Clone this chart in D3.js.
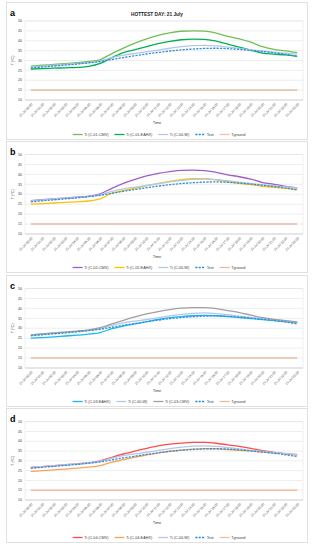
<!DOCTYPE html>
<html>
<head>
<meta charset="utf-8">
<script src="https://cdn.jsdelivr.net/npm/d3@7"></script>
<style>
  body { margin: 0; background: #fff; }
  text { font-family: "Liberation Sans", Arial, sans-serif; fill: #404040; }
</style>
</head>
<body>
<div id="chart"></div>
<script>
(function() {

  // hour ticks
  var timeLabels = [];
  for (var h = 0; h < 24; h++) timeLabels.push("21-Jul " + (h < 10 ? "0" + h : h) + ":00");

  var yTicks = [10, 15, 20, 25, 30, 35, 40, 45, 50];

  // shared series
  var tiW   = [26.7,27.2,27.6,28.0,28.4,28.9,29.8,31.4,32.7,33.6,34.4,35.3,36.2,37.0,37.5,37.7,37.4,36.8,36.1,35.4,34.8,34.2,33.7,33.2];
  var tExt  = [26.2,26.7,27.2,27.7,28.2,28.8,29.5,30.5,31.5,32.4,33.3,34.1,34.8,35.4,35.8,36.1,36.2,36.0,35.6,35.1,34.5,33.9,33.1,32.2];
  var tGround = [15,15,15,15,15,15,15,15,15,15,15,15,15,15,15,15,15,15,15,15,15,15,15,15];

  // panel a
  var c01Cmv  = [27.2,27.6,28.0,28.4,28.9,29.5,30.5,33.5,36.3,38.8,41.0,42.7,44.0,44.8,45.0,44.9,43.9,42.2,41.0,39.3,37.0,35.6,34.9,34.0];
  var c01Eahx = [25.7,25.9,26.1,26.3,26.5,27.0,28.5,31.5,34.0,35.5,37.0,38.5,39.7,40.5,40.8,40.7,39.8,38.3,36.8,35.2,33.7,33.2,32.8,32.1];
  // panel b
  var c02Cmv  = [26.8,27.3,27.7,28.1,28.5,29.0,30.2,33.0,35.5,37.5,39.2,40.5,41.4,42.0,42.1,41.9,41.0,39.8,38.8,37.6,35.9,35.0,34.0,33.2];
  var c02Eahx = [25.0,25.3,25.6,25.9,26.2,26.6,27.7,30.5,31.8,33.0,34.3,35.5,36.5,37.3,37.8,37.8,37.2,36.2,35.5,34.8,34.0,33.5,33.0,32.5];
  // panel c
  var c03Eahx = [25.0,25.3,25.7,26.1,26.5,27.0,27.8,29.8,31.1,32.2,33.3,34.4,35.3,35.9,36.3,36.5,36.3,35.9,35.4,34.9,34.4,33.9,33.4,32.8];
  var c03Cmv  = [26.6,27.1,27.6,28.1,28.6,29.2,30.3,32.2,34.0,35.7,37.2,38.4,39.4,40.1,40.4,40.4,39.9,38.9,37.9,36.6,35.3,34.5,33.8,33.1];
  // panel d
  var c04Cmv  = [26.6,27.1,27.5,28.0,28.5,29.0,30.0,31.8,33.5,35.0,36.4,37.6,38.5,39.1,39.4,39.4,39.0,38.2,37.4,36.4,35.2,34.3,33.6,33.0];
  var c04Eahx = [24.6,25.0,25.4,25.8,26.3,26.8,27.6,29.3,30.6,31.9,33.0,34.0,34.9,35.5,36.0,36.2,36.1,35.8,35.4,35.0,34.5,34.1,33.8,33.3];

  var panels = [
    { id: "a", top: 2, bottom: 139, plotTop: 21, plotBottom: 100, title: "HOTTEST DAY: 21 July",
      series: [
        { name: "Ti (C.01-CMV)",  values: c01Cmv,  color: "#70bf55" },
        { name: "Ti (C.01-EAHX)", values: c01Eahx, color: "#00b050" },
        { name: "Ti (C.00-W)",    values: tiW,     color: "#b4c7e7" },
        { name: "Text",           values: tExt,    color: "#2e8fd8", dash: true },
        { name: "Tground",        values: tGround, color: "#e6c6b2" }
      ] },
    { id: "b", top: 141, bottom: 272, plotTop: 154.5, plotBottom: 234,
      series: [
        { name: "Ti (C.02-CMV)",  values: c02Cmv,  color: "#a05dc8" },
        { name: "Ti (C.02-EAHX)", values: c02Eahx, color: "#ffc000" },
        { name: "Ti (C.00-W)",    values: tiW,     color: "#b4c7e7" },
        { name: "Text",           values: tExt,    color: "#2e8fd8", dash: true },
        { name: "Tground",        values: tGround, color: "#e6b8a6" }
      ] },
    { id: "c", top: 275, bottom: 406, plotTop: 288.5, plotBottom: 368,
      series: [
        { name: "Ti (C.03-EAHX)", values: c03Eahx, color: "#19b8f0" },
        { name: "Ti (C.00-W)",    values: tiW,     color: "#b4c7e7" },
        { name: "Ti (C.03-CMV)",  values: c03Cmv,  color: "#a0a0a0" },
        { name: "Text",           values: tExt,    color: "#2e8fd8", dash: true },
        { name: "Tground",        values: tGround, color: "#e8bca4" }
      ] },
    { id: "d", top: 408, bottom: 542, plotTop: 421.7, plotBottom: 500,
      series: [
        { name: "Ti (C.04-CMV)",  values: c04Cmv,  color: "#ff4b4b" },
        { name: "Ti (C.04-EAHX)", values: c04Eahx, color: "#f7a35c" },
        { name: "Ti (C.00-W)",    values: tiW,     color: "#b4c7e7" },
        { name: "Text",           values: tExt,    color: "#2e8fd8", dash: true },
        { name: "Tground",        values: tGround, color: "#f2bc9c" }
      ] }
  ];

  var W = 314, H = 550;
  var plotLeft = 25, plotRight = 303;

  var svg = d3.select("#chart").append("svg")
      .attr("width", W).attr("height", H);
  svg.append("rect").attr("width", W).attr("height", H).attr("fill", "#fff");

  var x = d3.scalePoint().domain(timeLabels).range([plotLeft, plotRight]).padding(0.5);

  panels.forEach(function(p) {
    var g = svg.append("g");

    // panel frame
    g.append("rect")
      .attr("x", 6.5).attr("y", p.top + 0.5)
      .attr("width", 301).attr("height", p.bottom - p.top)
      .attr("fill", "#fff").attr("stroke", "#d9d9d9").attr("stroke-width", 0.8);

    g.append("text")
      .attr("x", 10).attr("y", p.top + 14)
      .attr("font-size", 9).attr("font-weight", "bold")
      .style("fill", "#000")
      .text(p.id);

    if (p.title) {
      g.append("text")
        .attr("x", 157).attr("y", p.plotTop - 5)
        .attr("text-anchor", "middle")
        .attr("font-size", 5.6).attr("font-weight", "bold")
        .attr("textLength", 52).attr("lengthAdjust", "spacingAndGlyphs")
        .style("fill", "#222")
        .text(p.title);
    }

    var y = d3.scaleLinear().domain([10, 50]).range([p.plotBottom, p.plotTop]);

    // gridlines
    g.selectAll(".grid").data(yTicks).enter().append("line")
      .attr("x1", plotLeft).attr("x2", plotRight)
      .attr("y1", function(d) { return y(d); })
      .attr("y2", function(d) { return y(d); })
      .attr("stroke", "#e3e3e3").attr("stroke-width", 0.6);

    g.append("rect")
      .attr("x", plotLeft).attr("y", p.plotTop)
      .attr("width", plotRight - plotLeft).attr("height", p.plotBottom - p.plotTop)
      .attr("fill", "none").attr("stroke", "#e3e3e3").attr("stroke-width", 0.6);

    g.append("line")
      .attr("x1", plotLeft).attr("x2", plotRight)
      .attr("y1", p.plotBottom).attr("y2", p.plotBottom)
      .attr("stroke", "#d0d0d0").attr("stroke-width", 0.6);

    // y tick labels
    g.selectAll(".ylab").data(yTicks).enter().append("text")
      .attr("x", plotLeft - 3).attr("y", function(d) { return y(d) + 1.2; })
      .attr("text-anchor", "end").attr("font-size", 3.6)
      .text(function(d) { return d; });

    g.append("text")
      .attr("transform", "translate(14," + ((p.plotTop + p.plotBottom) / 2) + ") rotate(-90)")
      .attr("text-anchor", "middle").attr("font-size", 3.8)
      .text("T (°C)");

    // x tick labels
    g.selectAll(".xlab").data(timeLabels).enter().append("text")
      .attr("transform", function(d) {
        return "translate(" + (x(d) + 2) + "," + (p.plotBottom + 4.5) + ") rotate(-45)";
      })
      .attr("text-anchor", "end").attr("font-size", 3.2)
      .text(function(d) { return d; });

    g.append("text")
      .attr("x", 157).attr("y", p.plotBottom + 24)
      .attr("text-anchor", "middle").attr("font-size", 3.9)
      .text("Time");

    // lines, ground first
    var line = d3.line()
      .x(function(d, i) { return x(timeLabels[i]); })
      .y(function(d) { return y(d); })
      .curve(d3.curveMonotoneX);

    var order = [4, 0, 1, 2, 3];
    order.forEach(function(k) {
      var s = p.series[k];
      g.append("path")
        .datum(s.values)
        .attr("d", line)
        .attr("fill", "none")
        .attr("stroke", s.color)
        .attr("stroke-width", k == 4 ? 1.6 : 1.3)
        .attr("stroke-dasharray", s.dash ? "2.2,1.2" : null);
    });

    // legend
    var legY = p.bottom - 4.5;
    var leg = g.append("g");
    var cx = 0;
    p.series.forEach(function(s) {
      var item = leg.append("g").attr("transform", "translate(" + cx + ",0)");
      item.append("line")
        .attr("x1", 0).attr("x2", 10).attr("y1", 0).attr("y2", 0)
        .attr("stroke", s.color).attr("stroke-width", 1.3)
        .attr("stroke-dasharray", s.dash ? "2.2,1.2" : null);
      var t = item.append("text")
        .attr("x", 11.5).attr("y", 1.3).attr("font-size", 3.8)
        .text(s.name);
      cx += 11.5 + t.node().getComputedTextLength() + 6;
    });
    var total = cx - 6;
    leg.attr("transform", "translate(" + (159 - total / 2) + "," + legY + ")");
  });

})();
</script>
</body>
</html>
